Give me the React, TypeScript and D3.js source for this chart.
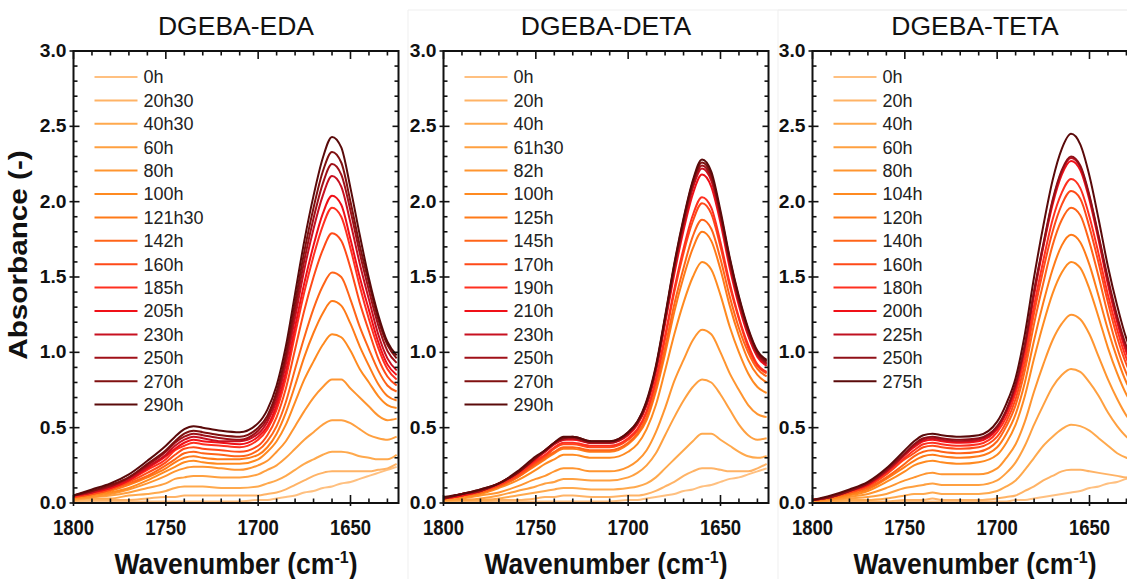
import React from 'react';
import * as d3 from 'd3';

// Wavenumber grid (cm-1) at which each spectrum was read
const wavenumbers = [1800, 1790, 1780, 1770, 1760, 1750, 1745, 1740, 1735, 1730, 1720, 1710, 1700, 1695, 1690, 1685, 1680, 1675, 1670, 1665, 1660, 1655, 1650, 1645, 1640, 1635, 1630, 1625];

const xTickLabels = [1800, 1750, 1700, 1650];
const yTickLabels = [0, 0.5, 1, 1.5, 2, 2.5, 3];

// ---------- DGEBA-EDA ----------
const edaLabels = ['0h', '20h30', '40h30', '60h', '80h', '100h', '121h30', '142h', '160h', '185h', '205h', '230h', '250h', '270h', '290h'];
const edaColors = ['#ffc080', '#ffb366', '#ffa94d', '#ffa040', '#ff9530', '#ff8a20', '#ff7a18', '#ff6418', '#ff4a18', '#ff3020', '#f01018', '#c81020', '#a01018', '#801010', '#5a0a0a'];
const eda0h = [0.01, 0.01, 0.01, 0.01, 0.01, 0.01, 0.01, 0.01, 0.01, 0.01, 0.01, 0.01, 0.02, 0.02, 0.03, 0.04, 0.05, 0.07, 0.08, 0.10, 0.11, 0.13, 0.14, 0.16, 0.18, 0.20, 0.22, 0.24];
const eda20h30 = [0.01, 0.02, 0.02, 0.02, 0.03, 0.04, 0.04, 0.05, 0.05, 0.05, 0.05, 0.05, 0.05, 0.06, 0.07, 0.09, 0.12, 0.15, 0.18, 0.20, 0.21, 0.21, 0.21, 0.21, 0.21, 0.22, 0.23, 0.26];
const eda40h30 = [0.02, 0.03, 0.03, 0.05, 0.06, 0.08, 0.10, 0.11, 0.11, 0.11, 0.10, 0.10, 0.11, 0.13, 0.15, 0.18, 0.22, 0.26, 0.29, 0.32, 0.34, 0.34, 0.33, 0.31, 0.30, 0.29, 0.29, 0.32];
const eda60h = [0.02, 0.04, 0.05, 0.07, 0.10, 0.13, 0.16, 0.17, 0.18, 0.18, 0.17, 0.17, 0.19, 0.22, 0.25, 0.30, 0.36, 0.42, 0.47, 0.52, 0.55, 0.55, 0.53, 0.49, 0.45, 0.43, 0.42, 0.44];
const eda80h = [0.03, 0.04, 0.06, 0.09, 0.13, 0.18, 0.21, 0.23, 0.24, 0.24, 0.23, 0.22, 0.25, 0.28, 0.34, 0.41, 0.51, 0.61, 0.70, 0.77, 0.82, 0.82, 0.76, 0.70, 0.64, 0.58, 0.55, 0.56];
const eda100h = [0.03, 0.05, 0.07, 0.10, 0.15, 0.21, 0.24, 0.27, 0.28, 0.27, 0.26, 0.26, 0.29, 0.34, 0.41, 0.52, 0.67, 0.82, 0.94, 1.05, 1.12, 1.10, 1.01, 0.89, 0.80, 0.71, 0.65, 0.63];
const eda121h30 = [0.04, 0.06, 0.08, 0.12, 0.17, 0.23, 0.27, 0.30, 0.31, 0.30, 0.29, 0.29, 0.32, 0.37, 0.46, 0.60, 0.78, 0.97, 1.13, 1.26, 1.34, 1.31, 1.19, 1.04, 0.91, 0.79, 0.71, 0.68];
const eda142h = [0.04, 0.06, 0.09, 0.13, 0.18, 0.25, 0.29, 0.33, 0.34, 0.33, 0.32, 0.31, 0.35, 0.41, 0.51, 0.67, 0.89, 1.10, 1.29, 1.44, 1.53, 1.50, 1.35, 1.17, 1.02, 0.88, 0.78, 0.74];
const eda160h = [0.04, 0.06, 0.09, 0.14, 0.20, 0.27, 0.32, 0.36, 0.37, 0.36, 0.35, 0.34, 0.38, 0.45, 0.57, 0.76, 1.02, 1.28, 1.50, 1.68, 1.79, 1.74, 1.56, 1.33, 1.14, 0.96, 0.84, 0.78];
const eda185h = [0.04, 0.07, 0.10, 0.15, 0.22, 0.29, 0.35, 0.38, 0.40, 0.39, 0.38, 0.37, 0.42, 0.49, 0.62, 0.83, 1.12, 1.40, 1.64, 1.84, 1.96, 1.90, 1.69, 1.44, 1.22, 1.03, 0.89, 0.82];
const eda205h = [0.05, 0.07, 0.10, 0.15, 0.23, 0.31, 0.36, 0.40, 0.42, 0.41, 0.40, 0.39, 0.44, 0.51, 0.65, 0.87, 1.17, 1.46, 1.71, 1.92, 2.04, 1.98, 1.75, 1.50, 1.28, 1.07, 0.92, 0.85];
const eda230h = [0.05, 0.07, 0.11, 0.16, 0.24, 0.32, 0.38, 0.42, 0.44, 0.43, 0.41, 0.41, 0.46, 0.54, 0.68, 0.92, 1.23, 1.55, 1.82, 2.04, 2.17, 2.10, 1.86, 1.59, 1.35, 1.12, 0.96, 0.88];
const eda250h = [0.05, 0.08, 0.11, 0.17, 0.25, 0.34, 0.40, 0.44, 0.46, 0.45, 0.43, 0.42, 0.48, 0.56, 0.71, 0.96, 1.28, 1.61, 1.89, 2.12, 2.25, 2.18, 1.94, 1.66, 1.41, 1.18, 1.01, 0.93];
const eda270h = [0.05, 0.08, 0.12, 0.17, 0.26, 0.35, 0.41, 0.46, 0.48, 0.47, 0.45, 0.44, 0.50, 0.58, 0.74, 0.99, 1.33, 1.67, 1.96, 2.20, 2.33, 2.26, 2.00, 1.71, 1.46, 1.22, 1.05, 0.96];
const eda290h = [0.05, 0.09, 0.13, 0.19, 0.28, 0.38, 0.44, 0.49, 0.51, 0.50, 0.48, 0.47, 0.53, 0.62, 0.78, 1.04, 1.39, 1.74, 2.04, 2.29, 2.43, 2.36, 2.09, 1.78, 1.49, 1.25, 1.07, 0.98];

// ---------- DGEBA-DETA ----------
const detaLabels = ['0h', '20h', '40h', '61h30', '82h', '100h', '125h', '145h', '170h', '190h', '210h', '230h', '250h', '270h', '290h'];
const detaColors = ['#ffc080', '#ffb366', '#ffa94d', '#ffa040', '#ff9530', '#ff8a20', '#ff7a18', '#ff6418', '#ff4a18', '#ff3020', '#f01018', '#c81020', '#a01018', '#801010', '#5a0a0a'];
const deta0h = [0.01, 0.01, 0.01, 0.01, 0.01, 0.01, 0.01, 0.01, 0.01, 0.01, 0.01, 0.01, 0.02, 0.02, 0.03, 0.04, 0.05, 0.06, 0.08, 0.09, 0.11, 0.12, 0.14, 0.16, 0.17, 0.19, 0.21, 0.23];
const deta20h = [0.01, 0.01, 0.01, 0.02, 0.02, 0.03, 0.04, 0.04, 0.05, 0.05, 0.04, 0.04, 0.05, 0.05, 0.06, 0.08, 0.11, 0.14, 0.18, 0.21, 0.23, 0.23, 0.22, 0.21, 0.21, 0.21, 0.23, 0.26];
const deta40h = [0.01, 0.02, 0.02, 0.03, 0.05, 0.07, 0.08, 0.09, 0.10, 0.10, 0.09, 0.09, 0.10, 0.11, 0.13, 0.17, 0.23, 0.29, 0.35, 0.41, 0.46, 0.46, 0.42, 0.38, 0.34, 0.31, 0.30, 0.31];
const deta61h30 = [0.02, 0.02, 0.03, 0.05, 0.08, 0.11, 0.13, 0.14, 0.16, 0.16, 0.15, 0.15, 0.17, 0.20, 0.25, 0.33, 0.45, 0.57, 0.68, 0.77, 0.82, 0.80, 0.72, 0.62, 0.52, 0.45, 0.42, 0.43];
const deta82h = [0.02, 0.03, 0.05, 0.07, 0.11, 0.16, 0.18, 0.21, 0.23, 0.23, 0.21, 0.21, 0.24, 0.28, 0.35, 0.47, 0.63, 0.81, 0.95, 1.08, 1.15, 1.12, 1.00, 0.86, 0.75, 0.65, 0.59, 0.57];
const deta100h = [0.03, 0.04, 0.06, 0.10, 0.15, 0.22, 0.26, 0.29, 0.32, 0.32, 0.30, 0.30, 0.34, 0.39, 0.49, 0.65, 0.88, 1.12, 1.33, 1.50, 1.60, 1.55, 1.38, 1.17, 1.00, 0.86, 0.77, 0.73];
const deta125h = [0.03, 0.05, 0.07, 0.11, 0.17, 0.25, 0.29, 0.33, 0.36, 0.36, 0.34, 0.34, 0.39, 0.45, 0.55, 0.74, 0.99, 1.27, 1.50, 1.69, 1.80, 1.74, 1.55, 1.31, 1.11, 0.95, 0.85, 0.80];
const deta145h = [0.03, 0.05, 0.07, 0.11, 0.17, 0.26, 0.30, 0.34, 0.37, 0.37, 0.35, 0.35, 0.40, 0.46, 0.57, 0.76, 1.03, 1.32, 1.56, 1.77, 1.88, 1.82, 1.62, 1.37, 1.16, 1.00, 0.89, 0.84];
const deta170h = [0.03, 0.05, 0.08, 0.12, 0.18, 0.27, 0.31, 0.36, 0.39, 0.39, 0.37, 0.37, 0.42, 0.48, 0.60, 0.80, 1.09, 1.40, 1.66, 1.87, 1.99, 1.92, 1.70, 1.44, 1.22, 1.03, 0.91, 0.86];
const deta190h = [0.03, 0.05, 0.08, 0.12, 0.19, 0.28, 0.32, 0.37, 0.40, 0.40, 0.38, 0.38, 0.43, 0.49, 0.61, 0.82, 1.11, 1.42, 1.69, 1.91, 2.03, 1.96, 1.73, 1.46, 1.23, 1.05, 0.92, 0.87];
const deta210h = [0.03, 0.05, 0.08, 0.13, 0.20, 0.29, 0.34, 0.39, 0.42, 0.42, 0.40, 0.40, 0.45, 0.52, 0.65, 0.87, 1.19, 1.52, 1.81, 2.05, 2.18, 2.10, 1.86, 1.56, 1.31, 1.11, 0.97, 0.91];
const deta230h = [0.03, 0.06, 0.08, 0.13, 0.20, 0.30, 0.34, 0.39, 0.42, 0.43, 0.40, 0.40, 0.46, 0.53, 0.66, 0.89, 1.21, 1.55, 1.84, 2.09, 2.22, 2.14, 1.89, 1.59, 1.33, 1.12, 0.98, 0.92];
const deta250h = [0.03, 0.06, 0.08, 0.13, 0.20, 0.30, 0.35, 0.40, 0.43, 0.43, 0.40, 0.40, 0.46, 0.53, 0.66, 0.89, 1.22, 1.57, 1.86, 2.11, 2.24, 2.16, 1.91, 1.60, 1.34, 1.14, 0.99, 0.93];
const deta270h = [0.03, 0.06, 0.09, 0.13, 0.20, 0.30, 0.35, 0.40, 0.43, 0.44, 0.41, 0.41, 0.47, 0.54, 0.67, 0.90, 1.23, 1.58, 1.88, 2.13, 2.26, 2.18, 1.92, 1.62, 1.36, 1.15, 1.00, 0.94];
const deta290h = [0.04, 0.06, 0.09, 0.13, 0.21, 0.31, 0.35, 0.40, 0.44, 0.44, 0.41, 0.41, 0.47, 0.54, 0.68, 0.91, 1.24, 1.59, 1.89, 2.14, 2.28, 2.20, 1.94, 1.63, 1.37, 1.16, 1.01, 0.95];

// ---------- DGEBA-TETA ----------
const tetaLabels = ['0h', '20h', '40h', '60h', '80h', '104h', '120h', '140h', '160h', '180h', '200h', '225h', '250h', '275h'];
const tetaColors = ['#ffc080', '#ffb366', '#ffa94d', '#ffa040', '#ff9530', '#ff8a20', '#ff7a18', '#ff6418', '#ff4a18', '#ff3020', '#f01018', '#c01020', '#901018', '#5a0a0a'];
const teta0h = [0.00, 0.00, 0.00, 0.00, 0.00, 0.01, 0.01, 0.01, 0.01, 0.01, 0.01, 0.01, 0.01, 0.01, 0.02, 0.02, 0.03, 0.04, 0.05, 0.06, 0.07, 0.08, 0.10, 0.11, 0.13, 0.14, 0.16, 0.17];
const teta20h = [0.01, 0.01, 0.01, 0.01, 0.01, 0.02, 0.02, 0.02, 0.03, 0.02, 0.02, 0.02, 0.03, 0.04, 0.05, 0.08, 0.11, 0.15, 0.18, 0.21, 0.22, 0.22, 0.21, 0.20, 0.19, 0.18, 0.17, 0.18];
const teta40h = [0.01, 0.01, 0.02, 0.02, 0.03, 0.05, 0.06, 0.06, 0.07, 0.06, 0.06, 0.06, 0.08, 0.11, 0.15, 0.22, 0.30, 0.38, 0.44, 0.49, 0.52, 0.51, 0.48, 0.43, 0.38, 0.33, 0.30, 0.28];
const teta60h = [0.01, 0.02, 0.03, 0.04, 0.06, 0.10, 0.11, 0.12, 0.13, 0.12, 0.12, 0.12, 0.15, 0.20, 0.27, 0.38, 0.52, 0.65, 0.77, 0.85, 0.89, 0.87, 0.80, 0.71, 0.60, 0.51, 0.44, 0.40];
const teta80h = [0.01, 0.02, 0.04, 0.06, 0.10, 0.15, 0.17, 0.19, 0.20, 0.19, 0.19, 0.19, 0.23, 0.30, 0.39, 0.54, 0.74, 0.92, 1.08, 1.19, 1.25, 1.22, 1.12, 0.97, 0.82, 0.69, 0.58, 0.51];
const teta104h = [0.02, 0.03, 0.05, 0.08, 0.14, 0.21, 0.25, 0.27, 0.28, 0.27, 0.26, 0.27, 0.32, 0.40, 0.52, 0.71, 0.96, 1.19, 1.39, 1.53, 1.60, 1.56, 1.42, 1.23, 1.03, 0.86, 0.72, 0.63];
const teta120h = [0.02, 0.03, 0.06, 0.09, 0.16, 0.24, 0.28, 0.31, 0.32, 0.31, 0.30, 0.31, 0.37, 0.46, 0.59, 0.80, 1.08, 1.33, 1.55, 1.71, 1.78, 1.73, 1.58, 1.37, 1.15, 0.96, 0.80, 0.70];
const teta140h = [0.02, 0.04, 0.07, 0.10, 0.17, 0.26, 0.31, 0.34, 0.35, 0.34, 0.33, 0.34, 0.41, 0.51, 0.65, 0.88, 1.19, 1.46, 1.71, 1.88, 1.96, 1.91, 1.73, 1.50, 1.25, 1.03, 0.86, 0.75];
const teta160h = [0.02, 0.04, 0.07, 0.11, 0.19, 0.29, 0.33, 0.37, 0.38, 0.37, 0.36, 0.37, 0.44, 0.54, 0.69, 0.93, 1.26, 1.55, 1.80, 1.98, 2.07, 2.02, 1.83, 1.59, 1.33, 1.10, 0.92, 0.80];
const teta180h = [0.02, 0.04, 0.08, 0.12, 0.20, 0.30, 0.35, 0.39, 0.40, 0.39, 0.38, 0.39, 0.47, 0.57, 0.73, 0.98, 1.31, 1.61, 1.88, 2.06, 2.15, 2.09, 1.90, 1.65, 1.38, 1.15, 0.96, 0.84];
const teta200h = [0.02, 0.04, 0.08, 0.12, 0.21, 0.32, 0.37, 0.41, 0.42, 0.41, 0.40, 0.41, 0.49, 0.60, 0.76, 1.03, 1.38, 1.70, 1.98, 2.18, 2.27, 2.21, 2.01, 1.74, 1.45, 1.20, 1.00, 0.87];
const teta225h = [0.02, 0.04, 0.08, 0.13, 0.21, 0.32, 0.38, 0.42, 0.43, 0.42, 0.41, 0.42, 0.50, 0.61, 0.78, 1.04, 1.40, 1.71, 2.00, 2.20, 2.29, 2.23, 2.03, 1.76, 1.47, 1.22, 1.02, 0.89];
const teta250h = [0.02, 0.04, 0.08, 0.13, 0.22, 0.33, 0.39, 0.43, 0.44, 0.43, 0.42, 0.43, 0.51, 0.62, 0.79, 1.05, 1.41, 1.72, 2.01, 2.21, 2.30, 2.24, 2.04, 1.77, 1.49, 1.24, 1.04, 0.91];
const teta275h = [0.02, 0.05, 0.09, 0.14, 0.23, 0.35, 0.41, 0.45, 0.46, 0.45, 0.44, 0.45, 0.54, 0.66, 0.83, 1.12, 1.50, 1.84, 2.14, 2.35, 2.45, 2.38, 2.17, 1.88, 1.57, 1.31, 1.09, 0.95];

const edaSeries = [eda0h, eda20h30, eda40h30, eda60h, eda80h, eda100h, eda121h30, eda142h, eda160h, eda185h, eda205h, eda230h, eda250h, eda270h, eda290h];
const detaSeries = [deta0h, deta20h, deta40h, deta61h30, deta82h, deta100h, deta125h, deta145h, deta170h, deta190h, deta210h, deta230h, deta250h, deta270h, deta290h];
const tetaSeries = [teta0h, teta20h, teta40h, teta60h, teta80h, teta104h, teta120h, teta140h, teta160h, teta180h, teta200h, teta225h, teta250h, teta275h];

const FONT = "'Liberation Sans', Arial, Helvetica, sans-serif";
const W = 1127;
const H = 579;
const TOP = 51;
const BOTTOM = 503;
const PW = 325;

type PanelProps = {
  x0: number;
  title: string;
  labels: string[];
  colors: string[];
  series: number[][];
};

function Panel({ x0, title, labels, colors, series }: PanelProps) {
  const x = d3.scaleLinear().domain([1800, 1624]).range([x0, x0 + PW]);
  const y = d3.scaleLinear().domain([0, 3]).range([BOTTOM, TOP]);
  const line = d3
    .line<number>()
    .x((_, i) => x(wavenumbers[i]))
    .y((d) => y(d))
    .curve(d3.curveMonotoneX);
  const clipId = `clip-${Math.round(x0)}`;
  const xMinor = d3.range(1790, 1624, -10).filter((v) => v % 50 !== 0);
  const yMinor = d3.range(1, 30).map((i) => i / 10).filter((v) => Math.round(v * 10) % 5 !== 0);
  const right = x0 + PW;
  const cx = x0 + PW / 2;

  return (
    <g>
      <defs>
        <clipPath id={clipId}>
          <rect x={x0} y={TOP} width={PW} height={BOTTOM - TOP} />
        </clipPath>
      </defs>
      <text x={cx} y={35} textAnchor="middle" fontFamily={FONT} fontSize={26.5} fill="#111">
        {title}
      </text>
      <g clipPath={`url(#${clipId})`}>
        {series.map((s, i) => (
          <path key={i} d={line(s) || ''} fill="none" stroke={colors[i]} strokeWidth={2} strokeLinejoin="round" />
        ))}
      </g>
      {/* legend */}
      <g>
        {labels.map((lab, i) => {
          const ly = 77 + i * 23.4;
          return (
            <g key={lab}>
              <line x1={x0 + 21} x2={x0 + 64} y1={ly} y2={ly} stroke={colors[i]} strokeWidth={2} />
              <text x={x0 + 70} y={ly} dy="0.36em" fontFamily={FONT} fontSize={18} fill="#222">
                {lab}
              </text>
            </g>
          );
        })}
      </g>
      {/* ticks */}
      <g stroke="#111" strokeWidth={1.6}>
        {xTickLabels.map((v) => (
          <g key={`xM${v}`}>
            <line x1={x(v)} x2={x(v)} y1={BOTTOM + 3} y2={BOTTOM - 8} />
            <line x1={x(v)} x2={x(v)} y1={TOP} y2={TOP + 8} />
          </g>
        ))}
        {xMinor.map((v) => (
          <g key={`xm${v}`}>
            <line x1={x(v)} x2={x(v)} y1={BOTTOM} y2={BOTTOM - 4.5} />
            <line x1={x(v)} x2={x(v)} y1={TOP} y2={TOP + 4.5} />
          </g>
        ))}
        {yTickLabels.map((v) => (
          <g key={`yM${v}`}>
            <line x1={x0 - 4} x2={x0 + 6} y1={y(v)} y2={y(v)} />
            <line x1={right} x2={right - 6} y1={y(v)} y2={y(v)} />
          </g>
        ))}
        {yMinor.map((v) => (
          <g key={`ym${v}`}>
            <line x1={x0} x2={x0 + 4} y1={y(v)} y2={y(v)} />
            <line x1={right} x2={right - 4} y1={y(v)} y2={y(v)} />
          </g>
        ))}
      </g>
      <rect x={x0} y={TOP} width={PW} height={BOTTOM - TOP} fill="none" stroke="#111" strokeWidth={2} />
      {/* tick labels */}
      {yTickLabels.map((v) => (
        <text
          key={`yl${v}`}
          transform={`translate(${x0 - 7},${y(v) + 6}) scale(1.1,1)`}
          textAnchor="end"
          fontFamily={FONT}
          fontWeight="bold"
          fontSize={17.5}
          fill="#111"
        >
          {v.toFixed(1)}
        </text>
      ))}
      {xTickLabels.map((v) => (
        <text
          key={`xl${v}`}
          transform={`translate(${x(v)},${535}) scale(1,1.15)`}
          textAnchor="middle"
          fontFamily={FONT}
          fontWeight="bold"
          fontSize={18.5}
          fill="#111"
        >
          {v}
        </text>
      ))}
      <text
        transform={`translate(${cx},${574}) scale(1,1.08)`}
        textAnchor="middle"
        fontFamily={FONT}
        fontWeight="bold"
        fontSize={26.5}
        fill="#111"
      >
        <tspan>Wavenumber (cm</tspan>
        <tspan dy={-10} fontSize={16}>-1</tspan>
        <tspan dy={10}>)</tspan>
      </text>
    </g>
  );
}

export default function App() {
  return (
    <svg
      width={W}
      height={H}
      viewBox={`0 0 ${W} ${H}`}
      style={{ position: 'absolute', left: 0, top: 0, background: '#fff' }}
    >
      <rect x={0} y={0} width={W} height={H} fill="#fff" />
      <path d="M408,579 V10 H1127" fill="none" stroke="#efefef" strokeWidth={1} />
      <path d="M778,579 V10 H1127" fill="none" stroke="#efefef" strokeWidth={1} />
      <Panel x0={73.5} title="DGEBA-EDA" labels={edaLabels} colors={edaColors} series={edaSeries} />
      <Panel x0={443.5} title="DGEBA-DETA" labels={detaLabels} colors={detaColors} series={detaSeries} />
      <Panel x0={812.5} title="DGEBA-TETA" labels={tetaLabels} colors={tetaColors} series={tetaSeries} />
      <text
        transform={`translate(27,255) scale(1,1.12) rotate(-90)`}
        textAnchor="middle"
        fontFamily={FONT}
        fontWeight="bold"
        fontSize={26.5}
        fill="#111"
      >
        Absorbance (-)
      </text>
    </svg>
  );
}
